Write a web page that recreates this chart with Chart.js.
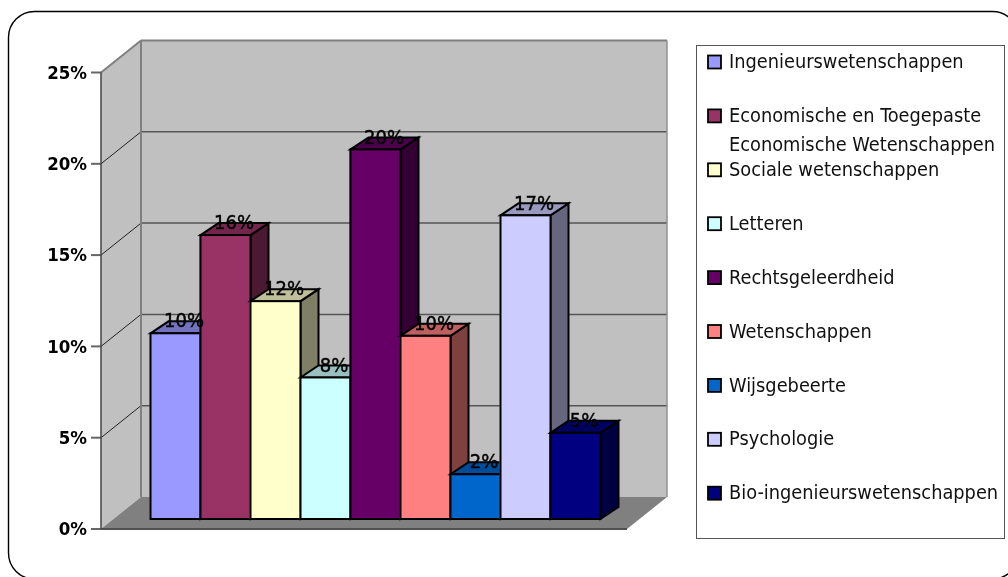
<!DOCTYPE html>
<html><head><meta charset="utf-8">
<style>html,body{margin:0;padding:0;background:#fff}#w{position:relative;width:1008px;height:577px}canvas{display:block}</style>
<script src="https://cdn.jsdelivr.net/npm/chart.js@4"></script></head>
<body><div id="w"><canvas id="c" width="1008" height="577"></canvas></div>
<script>
const categories = ["Ingenieurswetenschappen","Economische en Toegepaste Economische Wetenschappen","Sociale wetenschappen","Letteren","Rechtsgeleerdheid","Wetenschappen","Wijsgebeerte","Psychologie","Bio-ingenieurswetenschappen"];
const legendLines = [["Ingenieurswetenschappen"],["Economische en Toegepaste","Economische Wetenschappen"],["Sociale wetenschappen"],["Letteren"],["Rechtsgeleerdheid"],["Wetenschappen"],["Wijsgebeerte"],["Psychologie"],["Bio-ingenieurswetenschappen"]];
const shares = [10.17,15.55,11.93,7.75,20.24,10.03,2.45,16.63,4.72];
const colors = ["#9999FF","#993366","#FFFFCC","#CCFFFF","#660066","#FF8080","#0066CC","#CCCCFF","#000080"];
const yTicks = [0,5,10,15,20,25];

const shade=(hex,f)=>{const n=parseInt(hex.slice(1),16);return `rgb(${((n>>16)&255)*f|0},${((n>>8)&255)*f|0},${(n&255)*f|0})`;};
const poly=(ctx,pts,fill,stroke,lw)=>{ctx.beginPath();pts.forEach((p,i)=>i?ctx.lineTo(p[0],p[1]):ctx.moveTo(p[0],p[1]));ctx.closePath();
  if(fill){ctx.fillStyle=fill;ctx.fill();} if(stroke){ctx.strokeStyle=stroke;ctx.lineWidth=lw;ctx.lineJoin='miter';ctx.stroke();}};
const line=(ctx,a,b,c,d,col,lw)=>{ctx.beginPath();ctx.moveTo(a,b);ctx.lineTo(c,d);ctx.strokeStyle=col;ctx.lineWidth=lw;ctx.stroke();};

const FX0=101,FX1=627,DX=40,DY=32,BDX=18,BDY=12,LIFT=10;

const frame={id:'frame',beforeDraw(chart){
  const ctx=chart.ctx;ctx.save();
  ctx.fillStyle='#fff';ctx.fillRect(0,0,1008,577);
  ctx.beginPath();ctx.roundRect(8.5,11.5,1010,567.5,26);ctx.strokeStyle='#000';ctx.lineWidth=1.4;ctx.stroke();
  const y=chart.scales.y,yb=y.getPixelForValue(0),yt=y.getPixelForValue(25);
  poly(ctx,[[FX0,yt],[FX0+DX,yt-DY],[FX0+DX,yb-DY],[FX0,yb]],'#C0C0C0');
  poly(ctx,[[FX0+DX,yt-DY],[FX1+DX,yt-DY],[FX1+DX,yb-DY],[FX0+DX,yb-DY]],'#C0C0C0');
  poly(ctx,[[FX0,yb],[FX1,yb],[FX1+DX,yb-DY],[FX0+DX,yb-DY]],'#808080');
  yTicks.slice(1,-1).forEach(v=>{const p=y.getPixelForValue(v);
    line(ctx,FX0,p,FX0+DX,p-DY,'#222',1);
    line(ctx,FX0+DX,p-DY,FX1+DX,p-DY,'#555',1.5);
  });
  line(ctx,FX0,yt,FX0+DX,yt-DY,'#808080',2);
  line(ctx,FX0+DX,yt-DY,FX1+DX,yt-DY,'#808080',2);
  line(ctx,FX0+DX,yt-DY,FX0+DX,yb-DY,'#808080',2);
  line(ctx,FX1+DX,yt-DY,FX1+DX,yb-DY,'#909090',1.5);
  yTicks.forEach(v=>{const p=y.getPixelForValue(v);line(ctx,FX0-10,p,FX0,p,'#666',2);});
  line(ctx,FX0,yt,FX0,yb,'#444',1.5);
  line(ctx,FX0,yb,FX1,yb,'#505050',2);
  ctx.restore();
}};

const bars3d={id:'bars3d',beforeDatasetsDraw(chart){
  const ctx=chart.ctx,meta=chart.getDatasetMeta(0);
  ctx.save();ctx.translate(0,-LIFT);
  meta.data.forEach((b,i)=>{
    const l=b.x-b.width/2+.5,r=b.x+b.width/2+.5,t=b.y,bt=b.base,c=colors[i];
    poly(ctx,[[r,t],[r+BDX,t-BDY],[r+BDX,bt-BDY],[r,bt]],shade(c,.5),'#000',2);
    poly(ctx,[[l,t],[l+BDX,t-BDY],[r+BDX,t-BDY],[r,t]],shade(c,.75),'#000',2);
    b.draw(ctx);
    ctx.strokeStyle='#000';ctx.lineWidth=2;ctx.strokeRect(l,t,r-l,bt-t);
  });
  ctx.fillStyle='#000';ctx.strokeStyle='#000';ctx.lineWidth=.4;ctx.textAlign='center';ctx.textBaseline='middle';ctx.font='20px "DejaVu Sans Condensed"';
  meta.data.forEach((b,i)=>{const s=Math.round(shares[i])+'%';ctx.fillText(s,b.x+9,b.y-11);ctx.strokeText(s,b.x+9,b.y-11);});
  ctx.restore();
  return false;
}};

const legendBox={id:'legendBox',afterDraw(chart){
  const ctx=chart.ctx;ctx.save();
  ctx.fillStyle='#fff';ctx.fillRect(696,45,308,493);
  ctx.strokeStyle='#555';ctx.lineWidth=1;ctx.strokeRect(696.5,45.5,308,493);
  ctx.textBaseline='middle';ctx.textAlign='left';ctx.font='19.8px "DejaVu Sans Condensed"';
  legendLines.forEach((ls,i)=>{
    const y=62+i*53.9;
    ctx.fillStyle=colors[i];ctx.fillRect(708,y-6.5,13,13);
    ctx.strokeStyle='#000';ctx.lineWidth=1.8;ctx.strokeRect(708,y-6.5,13,13);
    ctx.fillStyle='#111';
    ls.forEach((s,k)=>ctx.fillText(s,729,y+1+k*28.5));
  });
  ctx.restore();
}};

new Chart(document.getElementById('c'),{
  type:'bar',
  data:{labels:categories,datasets:[{label:'Aandeel',data:shares,backgroundColor:colors,borderWidth:0,barPercentage:1,categoryPercentage:1}]},
  options:{responsive:false,animation:false,
    layout:{padding:{left:0,right:408,top:72.5,bottom:48}},
    plugins:{legend:{display:false},tooltip:{enabled:false},title:{display:false}},
    scales:{
      x:{display:false},
      y:{min:0,max:25,position:'left',
        afterFit(s){s.width=150;},
        grid:{display:false,drawTicks:true,tickLength:60},border:{display:false},
        ticks:{stepSize:5,padding:3,labelOffset:1.5,color:'#000',font:{family:'"DejaVu Sans Condensed"',size:18.5,weight:'bold'},callback:v=>v+'%'}}
    }
  },
  plugins:[frame,bars3d,legendBox]
});
</script></body></html>
